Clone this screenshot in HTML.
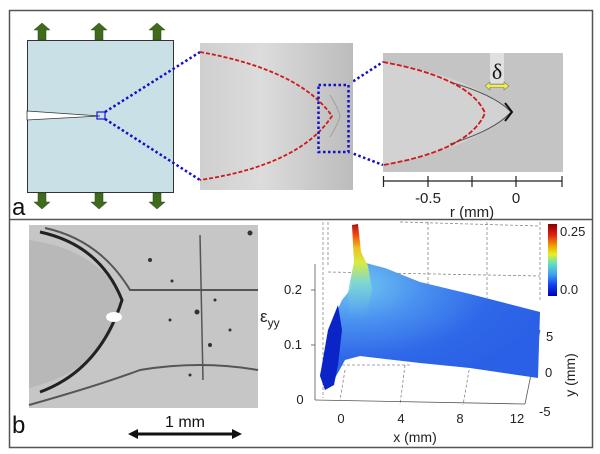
<!DOCTYPE html>
<html><head><meta charset="utf-8"><style>
body{margin:0;background:#fff;}
svg{display:block;font-family:"Liberation Sans",Arial,sans-serif;}
</style></head><body>
<svg width="600" height="454" viewBox="0 0 600 454" xmlns="http://www.w3.org/2000/svg">
<defs>
<linearGradient id="gm" x1="0" x2="1" y1="0" y2="0"><stop offset="0" stop-color="#cfcfcf"/><stop offset="0.4" stop-color="#dcdcdc"/><stop offset="1" stop-color="#bcbcbc"/></linearGradient>
<linearGradient id="cb" x1="0" y1="0" x2="0" y2="1">
<stop offset="0" stop-color="#8b0000"/><stop offset="0.15" stop-color="#e02010"/><stop offset="0.3" stop-color="#f0a000"/><stop offset="0.42" stop-color="#e8f020"/><stop offset="0.55" stop-color="#60e0c0"/><stop offset="0.7" stop-color="#40a0f0"/><stop offset="0.85" stop-color="#1040f0"/><stop offset="1" stop-color="#0000b0"/></linearGradient>
<linearGradient id="pk" x1="0" y1="0" x2="0" y2="1">
<stop offset="0" stop-color="#b01010"/><stop offset="0.12" stop-color="#f05010"/><stop offset="0.25" stop-color="#f0c020"/><stop offset="0.4" stop-color="#d8ec40"/><stop offset="0.6" stop-color="#80d8d0"/><stop offset="1" stop-color="#5aa8f0" stop-opacity="0"/></linearGradient>
<radialGradient id="sf" cx="0.15" cy="0.2" r="0.9"><stop offset="0" stop-color="#70c8f0"/><stop offset="0.35" stop-color="#4a90f0"/><stop offset="0.7" stop-color="#2f68e8"/><stop offset="1" stop-color="#2a60e6"/></radialGradient>
</defs>
<rect x="9.5" y="10.5" width="583" height="437" fill="#fff" stroke="#555" stroke-width="1.5"/>
<line x1="9" y1="219.5" x2="593" y2="219.5" stroke="#555" stroke-width="1.5"/>
<rect x="27.5" y="40.5" width="146" height="152" fill="#c8e0e6" stroke="#333" stroke-width="1"/>
<polygon points="27,111 100,116 27,120" fill="#fff" stroke="#333" stroke-width="0.8"/>
<g fill="#3e6b1c" stroke="#2a4a10" stroke-width="0.5">
<g id="au"><polygon points="34,30 42,23 50,30 46,30 46,40 38,40 38,30"/></g>
<use href="#au" x="57"/><use href="#au" x="115"/>
<g id="ad"><polygon points="38,193 46,193 46,202 50,202 42,209 34,202 38,202"/></g>
<use href="#ad" x="57"/><use href="#ad" x="115"/>
</g>
<rect x="97" y="112" width="8" height="7" fill="none" stroke="#1a1ad0" stroke-width="1.2"/>
<g stroke="#1010c8" stroke-width="2.5" stroke-dasharray="2.5,2.5" fill="none">
<line x1="105" y1="112" x2="200" y2="52"/><line x1="105" y1="119" x2="200" y2="180"/>
<line x1="349" y1="84" x2="383" y2="62"/><line x1="349" y1="152" x2="383" y2="165"/>
</g>
<rect x="200" y="43" width="153" height="147" fill="url(#gm)"/>
<path d="M200,52 Q300,70 332,116 Q300,165 200,180" fill="none" stroke="#d01818" stroke-width="1.8" stroke-dasharray="4,2"/>
<path d="M330,95 Q338,108 340,116 Q338,124 330,137" fill="none" stroke="#999" stroke-width="0.8"/>
<g stroke="#1010c8" stroke-width="2.5" stroke-dasharray="2.5,2.5" fill="none"><rect x="318.5" y="85" width="30" height="67"/></g>
<rect x="383" y="53" width="180" height="119" fill="#c4c4c4"/>
<path d="M383,62 Q470,76 511,112 Q470,150 383,165 Z" fill="#d2d2d2"/>
<path d="M450,82 Q495,95 511,112 Q495,130 450,144" fill="none" stroke="#555" stroke-width="1"/>
<path d="M505,103 L512,112 L505,121" fill="none" stroke="#111" stroke-width="2"/>
<path d="M383,62 Q470,78 485,113 Q470,150 383,165" fill="none" stroke="#d01818" stroke-width="1.8" stroke-dasharray="5,2"/>
<rect x="490" y="53" width="14" height="30" fill="#e0e0e0"/>
<text x="497" y="79" font-family="Liberation Serif,serif" font-size="22" text-anchor="middle" fill="#111">δ</text>
<path d="M485,86 l5,-4 v2.5 h14 v-2.5 l5,4 l-5,4 v-2.5 h-14 v2.5 z" fill="#f0f040" stroke="#777" stroke-width="0.6"/>
<g stroke="#222" stroke-width="1.2"><line x1="383" y1="181" x2="562" y2="181"/>
<line x1="383.5" y1="176" x2="383.5" y2="187"/><line x1="428" y1="176" x2="428" y2="187"/><line x1="472" y1="176" x2="472" y2="187"/><line x1="516" y1="176" x2="516" y2="187"/><line x1="562" y1="176" x2="562" y2="187"/></g>
<g font-size="15" fill="#222" text-anchor="middle"><text x="428" y="203">-0.5</text><text x="516" y="203">0</text><text x="472" y="217">r (mm)</text></g>
<text x="12" y="215" font-size="24" fill="#111">a</text>
<rect x="29" y="225" width="229" height="183" fill="#c6c6c6"/>
<path d="M29,240 Q100,250 122,300 L118,316 Q100,370 29,388 Z" fill="#b8b8b8"/>
<path d="M40,232 Q100,245 122,300 Q100,370 40,392" fill="none" stroke="#222" stroke-width="3"/>
<path d="M45,228 Q100,240 130,290 L258,290" fill="none" stroke="#555" stroke-width="2"/>
<path d="M29,405 Q100,385 140,370 Q200,360 258,370" fill="none" stroke="#555" stroke-width="2"/>
<ellipse cx="114" cy="317" rx="8" ry="5" fill="#fff"/>
<g fill="#333"><circle cx="150" cy="260" r="2"/><circle cx="197" cy="312" r="2.5"/><circle cx="210" cy="345" r="2"/><circle cx="172" cy="281" r="1.5"/><circle cx="250" cy="233" r="2.5"/><circle cx="190" cy="375" r="1.5"/><circle cx="230" cy="330" r="1.5"/><circle cx="170" cy="320" r="1.5"/><circle cx="215" cy="300" r="1.5"/></g>
<line x1="200" y1="235" x2="203" y2="380" stroke="#555" stroke-width="1.5"/>
<text x="12" y="433" font-size="24" fill="#111">b</text>
<text x="185" y="427" font-size="16" fill="#111" text-anchor="middle">1 mm</text>
<path d="M128,434 l10,-5 v3.5 h94 v-3.5 l10,5 l-10,5 v-3.5 h-94 v3.5 z" fill="#111"/>
<g stroke="#888" stroke-width="0.8" stroke-dasharray="3,2" fill="none">
<line x1="323" y1="222" x2="323" y2="398"/><line x1="328" y1="222" x2="328" y2="265"/>
<line x1="428" y1="222" x2="428" y2="298"/><line x1="487" y1="222" x2="487" y2="298"/>
<line x1="540" y1="222" x2="540" y2="300"/>
<line x1="328" y1="272" x2="540" y2="276"/><line x1="400" y1="222" x2="540" y2="226"/>
<line x1="332" y1="365" x2="410" y2="365"/><line x1="345" y1="370" x2="340" y2="400"/><line x1="405" y1="365" x2="400" y2="405"/><line x1="470" y1="365" x2="463" y2="405"/>
</g>
<g stroke="#555" stroke-width="0.8" fill="none"><line x1="315" y1="264" x2="315" y2="400"/><line x1="315" y1="400" x2="525" y2="404"/><line x1="525" y1="404" x2="540" y2="330"/>
<line x1="311" y1="290" x2="315" y2="290"/><line x1="311" y1="345" x2="315" y2="345"/></g>
<path d="M320,375 L333,320 L342,300 L350,290 L356,270 L362,262 L385,268 L420,282 L470,294 L540,312 L538,378 L470,368 L420,363 L360,356 L345,360 L335,378 Z" fill="url(#sf)"/>
<path d="M320,376 L328,330 L338,305 L342,330 L338,365 L334,385 L325,390 Z" fill="#0a24c8"/>
<path d="M352,225 L358,224 L361,252 L368,266 L372,290 L366,320 L350,318 L348,292 L354,262 Z" fill="url(#pk)"/>
<rect x="548" y="224" width="9" height="72" fill="url(#cb)"/>
<g font-size="13" fill="#222"><text x="560" y="236">0.25</text><text x="560" y="294">0.0</text>
<text x="293" y="294" text-anchor="middle">0.2</text><text x="293" y="349" text-anchor="middle">0.1</text><text x="300" y="404" text-anchor="middle">0</text>
<text x="341" y="423" text-anchor="middle">0</text><text x="401" y="423" text-anchor="middle">4</text><text x="460" y="423" text-anchor="middle">8</text><text x="517" y="423" text-anchor="middle">12</text>
<text x="415" y="442" text-anchor="middle" font-size="14">x (mm)</text>
<text x="546" y="341">5</text><text x="545" y="377">0</text><text x="539" y="416">-5</text>
<text x="575" y="375" font-size="14" text-anchor="middle" transform="rotate(-90 575 375)">y (mm)</text>
<text x="260" y="322" font-size="17">ε<tspan font-size="12" dy="5">yy</tspan></text></g>
</svg>
</body></html>
